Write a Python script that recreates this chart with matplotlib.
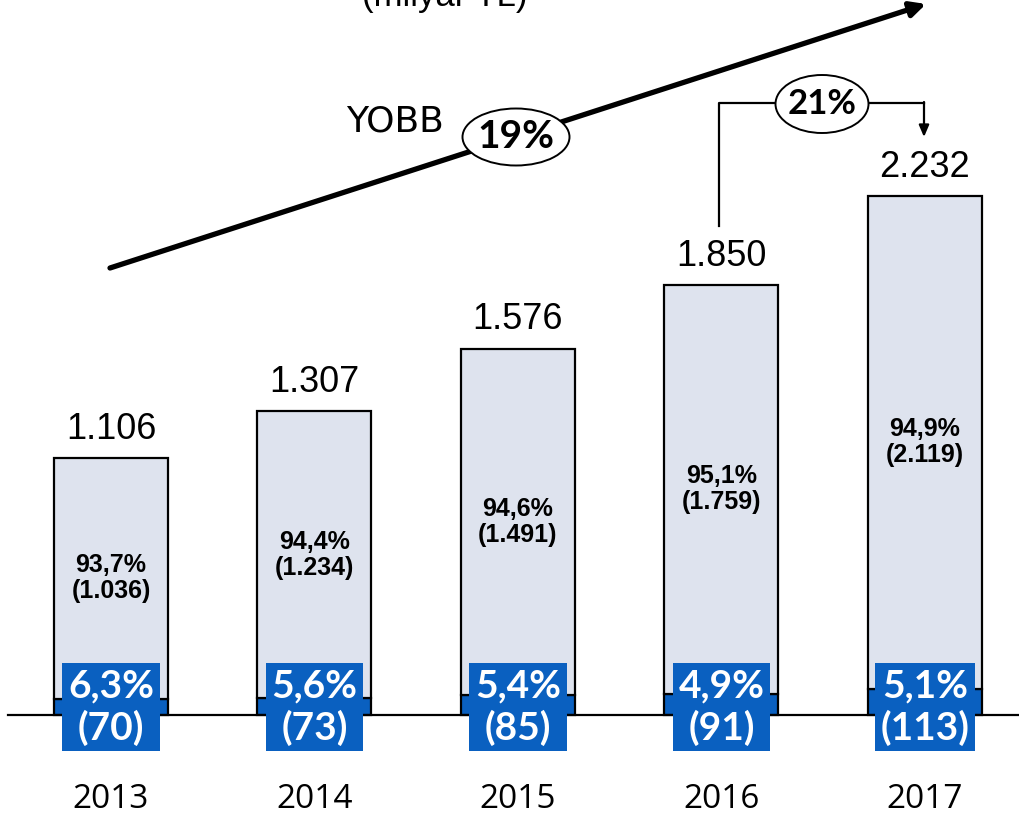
import matplotlib
matplotlib.use("Agg")
import matplotlib.pyplot as plt
from matplotlib.patches import Ellipse
import numpy as np

years = ["2013", "2014", "2015", "2016", "2017"]
totals = [1106, 1307, 1576, 1850, 2232]
top_vals = [1036, 1234, 1491, 1759, 2119]
bottom_vals = [70, 73, 85, 91, 113]
top_pct = ["93,7%", "94,4%", "94,6%", "95,1%", "94,9%"]
bottom_pct = ["6,3%", "5,6%", "5,4%", "4,9%", "5,1%"]
total_labels = ["1.106", "1.307", "1.576", "1.850", "2.232"]
top_labels = ["(1.036)", "(1.234)", "(1.491)", "(1.759)", "(2.119)"]
bottom_labels = ["(70)", "(73)", "(85)", "(91)", "(113)"]
cagr_label = "19%"
last_growth_label = "21%"

DARK = "#0a60c0"
LIGHT = "#dee3ee"

W, H = 1020, 818
fig = plt.figure(figsize=(W / 100, H / 100), dpi=100)
ax = fig.add_axes([0, 0, 1, 1])
fig.patch.set_facecolor("white")

# pixel layout: baseline at 715 px from top, 0.2325 px per unit, bars 203.5 px apart
unit = 1 / 0.2325
base_px = 715
ax.set_ylim(-(H - base_px) * unit, base_px * unit)
ax.set_xlim(-111 / 203.5, (W - 111) / 203.5)
ax.axis("off")

x = np.arange(len(years))
bw = 114 / 203.5
ax.bar(x, bottom_vals, bw, color=DARK, edgecolor="black", linewidth=1.6, zorder=2)
ax.bar(x, top_vals, bw, bottom=bottom_vals, color=LIGHT, edgecolor="black", linewidth=1.6, zorder=2)
ax.axhline(0, xmin=8 / W, xmax=1, color="black", linewidth=1.6, zorder=3)

for i in range(len(years)):
    ax.annotate(total_labels[i], (x[i], totals[i]), xytext=(0, 8), textcoords="offset points",
                ha="center", va="bottom", fontsize=26, family="Liberation Sans")
    mid = bottom_vals[i] + top_vals[i] / 2
    ax.text(x[i], mid, f"{top_pct[i]}\n{top_labels[i]}", ha="center", va="center",
            fontsize=18, fontweight="bold", family="Liberation Sans", linespacing=1.1, zorder=4)
    ax.text(x[i], 8 * unit, f"{bottom_pct[i]}\n{bottom_labels[i]}", ha="center", va="center",
            fontsize=28, fontweight="bold", family="Lato", color="white", linespacing=1.2, zorder=5,
            bbox=dict(boxstyle="square,pad=0.15", facecolor=DARK, edgecolor="none"))
    ax.annotate(years[i], (x[i], 0), xytext=(0, -61), textcoords="offset points",
                ha="center", va="center", fontsize=24, family="Open Sans")


def fx(px):
    return px / W


def fy(py):
    return 1 - py / H


# title (cut off at top in the original)
ax.text(fx(445), fy(-4), "(milyar TL)", transform=ax.transAxes, ha="center", va="center",
        fontsize=25, family="Liberation Sans", clip_on=False)

# growth arrow
ax.annotate("", xy=(fx(926), fy(4)), xytext=(fx(110), fy(268)),
            xycoords="axes fraction", textcoords="axes fraction",
            arrowprops=dict(arrowstyle="-|>,head_length=0.9,head_width=0.45", lw=3.8, color="black",
                            shrinkA=0, shrinkB=0), zorder=5)
ax.text(fx(395), fy(122), "YOBB", transform=ax.transAxes, ha="center", va="center",
        fontsize=26, family="DejaVu Sans", zorder=6)
ax.add_patch(Ellipse((fx(516), fy(137)), 107 / W, 57 / H, transform=ax.transAxes,
                     facecolor="white", edgecolor="black", linewidth=1.4, zorder=6))
ax.text(fx(516), fy(137), cagr_label, transform=ax.transAxes, ha="center", va="center",
        fontsize=28, fontweight="bold", family="Lato", zorder=7)

# 2016 -> 2017 bracket
ax.plot([fx(719), fx(719), fx(924)], [fy(226), fy(103), fy(103)], transform=ax.transAxes,
        color="black", linewidth=1.6, zorder=5)
ax.annotate("", xy=(fx(924), fy(137)), xytext=(fx(924), fy(102)),
            xycoords="axes fraction", textcoords="axes fraction",
            arrowprops=dict(arrowstyle="-|>,head_length=0.7,head_width=0.3", lw=1.6, color="black",
                            shrinkA=0, shrinkB=0), zorder=5)
ax.add_patch(Ellipse((fx(822), fy(104)), 93 / W, 58 / H, transform=ax.transAxes,
                     facecolor="white", edgecolor="black", linewidth=1.4, zorder=6))
ax.text(fx(822), fy(104), last_growth_label, transform=ax.transAxes, ha="center", va="center",
        fontsize=25, fontweight="bold", family="Lato", zorder=7)

fig.savefig("out.png", dpi=100)
